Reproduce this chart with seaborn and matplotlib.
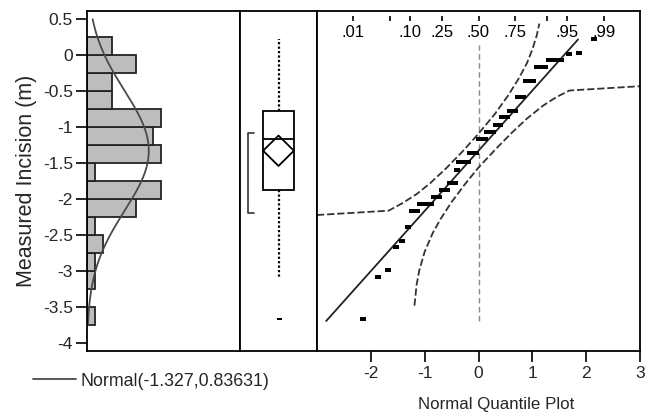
import numpy as np
import pandas as pd
import matplotlib
matplotlib.use("Agg")
import matplotlib.pyplot as plt
import seaborn as sns
from statistics import NormalDist
from matplotlib.path import Path
from matplotlib.transforms import blended_transform_factory

sns.set_theme(style="white")
plt.rcParams["font.family"] = ["Liberation Sans", "DejaVu Sans"]
plt.rcParams["axes.unicode_minus"] = False

# ---------------- data ----------------
incision = [
    -3.66, -3.08, -2.98, -2.66, -2.58, -2.38,
    -2.16, -2.16, -2.07, -2.07, -2.07, -2.07,
    -1.97, -1.97, -1.97, -1.87, -1.87, -1.87, -1.77, -1.77, -1.77,
    -1.60,
    -1.48, -1.48, -1.48, -1.48, -1.48, -1.36, -1.36, -1.36, -1.36,
    -1.17, -1.17, -1.17, -1.17, -1.07, -1.07, -1.07, -1.07,
    -0.97, -0.97, -0.97, -0.86, -0.86, -0.86, -0.77, -0.77, -0.77,
    -0.58, -0.58, -0.58,
    -0.36, -0.36, -0.36,
    -0.16, -0.16, -0.16, -0.07, -0.07, -0.07,
    0.02, 0.03, 0.23,
]
fit_mean = -1.327
fit_sd = 0.83631
bin_width = 0.25
bin_start = -3.75
bin_stop = 0.25
curve_range = [-3.75, 0.5]
mean_ci = [-1.538, -1.116]
shortest_half = [-2.19, -1.08]
qq_line_z = [-2.83, 1.85]
zero_line_v = [-3.70, 0.14]

upper_band_z = [-3.0, -1.67, -1.4, -1.15, -0.9, -0.6, -0.3, 0.0, 0.3, 0.55, 0.75, 0.9, 1.0, 1.08, 1.13]
upper_band_v = [-2.22, -2.16, -2.05, -1.93, -1.78, -1.57, -1.34, -1.09, -0.82, -0.56, -0.32, -0.11, 0.08, 0.27, 0.44]
lower_band_z = [-1.19, -1.15, -1.1, -1.0, -0.85, -0.7, -0.5, -0.25, 0.0, 0.3, 0.6, 0.9, 1.2, 1.45, 1.69, 3.0]
lower_band_v = [-3.48, -3.19, -2.99, -2.73, -2.47, -2.27, -2.04, -1.79, -1.56, -1.32, -1.09, -0.88, -0.70, -0.58, -0.49, -0.43]

prob_ticks = [0.01, 0.05, 0.10, 0.25, 0.50, 0.75, 0.90, 0.95, 0.99]
prob_labels = [".01", "", ".10", ".25", ".50", ".75", "", ".95", ".99"]
y_ticks = [-4, -3.5, -3, -2.5, -2, -1.5, -1, -0.5, 0, 0.5]
y_tick_labels = ["-4", "-3.5", "-3", "-2.5", "-2", "-1.5", "-1", "-0.5", "0", "0.5"]
q_ticks = [-2, -1, 0, 1, 2, 3]
q_tick_labels = ["-2", "-1", "0", "1", "2", "3"]

# ---------------- layout ----------------
W, H = 655, 417
fig = plt.figure(figsize=(W / 100, H / 100), dpi=100)
bot = (H - 351) / H
hgt = 340 / H
ax1 = fig.add_axes([87 / W, bot, 153 / W, hgt])
ax2 = fig.add_axes([240 / W, bot, 77 / W, hgt], sharey=ax1)
ax3 = fig.add_axes([317 / W, bot, 323 / W, hgt], sharey=ax1)

ylo, yhi = -4.11, 0.615
dark = "#222222"

# ---------------- histogram + normal curve ----------------
df = pd.DataFrame({"incision": incision})
bins = np.arange(bin_start, bin_stop + 0.01, bin_width)
sns.histplot(data=df, y="incision", bins=bins, ax=ax1, color="#bdbdbd",
             edgecolor=dark, linewidth=1.3, alpha=1.0)
nd = NormalDist(fit_mean, fit_sd)
n = len(incision)
yy = np.linspace(curve_range[0], curve_range[1], 300)
xx = [n * bin_width * nd.pdf(v) for v in yy]
ax1.plot(xx, yy, color="#4a4a4a", lw=1.3, label="Normal(-1.327,0.83631)")
ax1.set_xlim(0, 18.6)
ax1.set_ylim(ylo, yhi)
ax1.set_xticks([])
ax1.set_xlabel("")
ax1.set_yticks(y_ticks)
ax1.set_yticklabels(y_tick_labels)
ax1.tick_params(axis="y", direction="out", length=8, width=1.2, color="black",
                labelsize=12.5, pad=2, left=True)
ax1.set_ylabel("Measured Incision (m)", fontsize=15.5, labelpad=4)

# ---------------- box plot panel ----------------
dash = Path([(-1, -0.55), (1, -0.55), (1, 0.55), (-1, 0.55), (-1, -0.55)],
            [Path.MOVETO, Path.LINETO, Path.LINETO, Path.LINETO, Path.CLOSEPOLY])
sns.boxplot(data=df, y="incision", ax=ax2, width=0.4, color="white",
            linecolor="black", linewidth=1.3, showcaps=False,
            whiskerprops={"linestyle": (0, (1, 1.0)), "linewidth": 1.6},
            flierprops={"marker": dash, "markersize": 3.6, "markeredgewidth": 0,
                        "markerfacecolor": "black", "markeredgecolor": "black"},
            medianprops={"color": "black", "linewidth": 1.3})
ax2.plot([-0.2, 0, 0.2, 0, -0.2],
         [fit_mean, mean_ci[1], fit_mean, mean_ci[0], fit_mean],
         color="black", lw=1.3)
ax2.plot([-0.32, -0.396, -0.396, -0.32],
         [shortest_half[1], shortest_half[1], shortest_half[0], shortest_half[0]],
         color="#333333", lw=1.2)
ax2.set_xlim(-0.5, 0.5)
ax2.set_xticks([])
ax2.set_xlabel("")
ax2.set_ylabel("")
ax2.tick_params(axis="y", left=False, labelleft=False)

# ---------------- normal quantile plot ----------------
sorted_vals = sorted(incision)
std = NormalDist()
zq = [std.inv_cdf(i / (n + 1)) for i in range(1, n + 1)]
qq = pd.DataFrame({"z": zq, "v": sorted_vals})
sns.lineplot(x=[0, 0], y=zero_line_v, ax=ax3, color="#8a8a8a", lw=1.0,
             linestyle=(0, (4, 2.5)), estimator=None, sort=False)
zl = np.array(qq_line_z)
ax3.plot(zl, fit_mean + fit_sd * zl, color=dark, lw=1.3)
ax3.plot(upper_band_z, upper_band_v, color="#333333", lw=1.3, linestyle=(0, (4, 1.6)))
ax3.plot(lower_band_z, lower_band_v, color="#333333", lw=1.3, linestyle=(0, (4, 1.6)))
sns.scatterplot(data=qq, x="z", y="v", ax=ax3, marker=dash, s=22,
                color="black", linewidth=0, zorder=5)
ax3.set_xlim(-3, 3)
ax3.set_xticks(q_ticks)
ax3.set_xticklabels(q_tick_labels)
ax3.tick_params(axis="x", direction="out", length=8, width=1.2, color="black",
                labelsize=12.5, pad=3, bottom=True)
ax3.tick_params(axis="y", left=False, labelleft=False)
ax3.set_xlabel("")
ax3.set_ylabel("")

trans = blended_transform_factory(ax3.transData, ax3.transAxes)
pz = [std.inv_cdf(p) for p in prob_ticks]
ax3.vlines(pz, 0.971, 0.984, transform=trans, color="black", lw=1.2)
for z, lab in zip(pz, prob_labels):
    if lab:
        ax3.text(z, 0.938, lab, transform=trans, ha="center", va="center",
                 fontsize=12, color="black")

for ax in (ax1, ax2, ax3):
    for sp in ax.spines.values():
        sp.set_visible(True)
        sp.set_color("black")
        sp.set_linewidth(1.3)
ax1.set_ylim(ylo, yhi)

# ---------------- legend / labels ----------------
handles, labels = ax1.get_legend_handles_labels()
fig.legend(handles, labels, loc="center left", bbox_to_anchor=(17 / W, 1 - 381 / H),
           frameon=False, fontsize=12.8, handlelength=2.4, handletextpad=0.3)
fig.text(496 / W, 1 - 405 / H, "Normal Quantile Plot", ha="center", va="center",
         fontsize=12.2)

fig.savefig("out.png", dpi=100)
